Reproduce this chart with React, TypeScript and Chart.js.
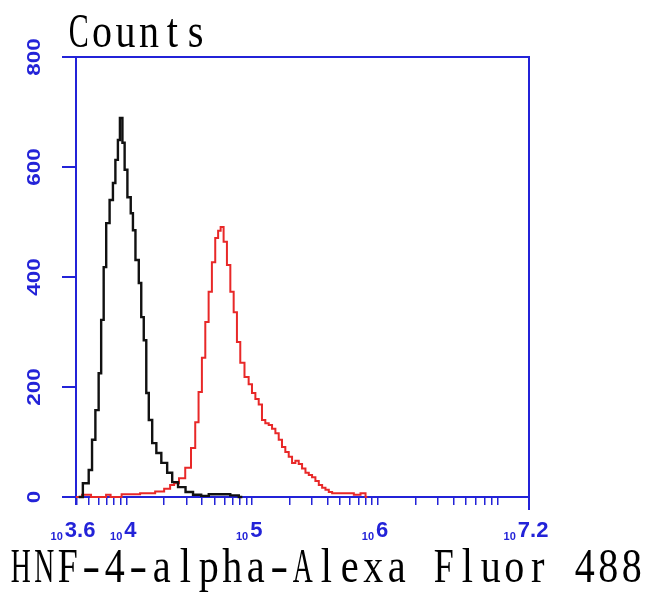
import React, { useEffect, useRef } from 'react';
import { Chart, registerables } from 'chart.js';

Chart.register(...registerables);

// ---- axis definitions ----
const X_MIN = 3.6; // log10 of fluorescence
const X_MAX = 7.2;
const xMajorTicks = [3.6, 4, 5, 6, 7.2];
const xMajorLabels = ['3.6', '4', '5', '6', '7.2'];
const xMinorMultipliers = [2, 3, 4, 5, 6, 7, 8, 9];
const xDecades = [3, 4, 5, 6];
const yTicks = [0, 200, 400, 600, 800];
const yTickLabels = ['0', '200', '400', '600', '800'];

const yAxisTitle = 'Counts';
const xAxisTitle = 'HNF-4-alpha-Alexa Fluor 488';

// ---- series (x in log10 units, y in counts) ----
const controlX = [3.621, 3.688, 3.714, 3.741, 3.767, 3.793, 3.807, 3.833, 3.847, 3.887, 3.9, 3.926, 3.94, 3.958, 3.98, 3.993, 4.024, 4.046, 4.059, 4.086, 4.112, 4.125, 4.152, 4.165, 4.192, 4.219, 4.258, 4.298, 4.351, 4.378, 4.444, 4.497, 4.563, 4.627, 4.683, 4.786, 4.866, 4.922];
const controlY = [0, 25, 49, 104, 158, 225, 322, 418, 498, 540, 571, 613, 649, 689, 644, 595, 545, 516, 485, 431, 389, 327, 285, 189, 140, 98, 80, 62, 44, 27, 18, 9, 4, 2, 5, 5, 3, 0];

const sampleX = [3.6, 3.696, 3.743, 3.823, 3.855, 3.895, 4.03, 4.189, 4.269, 4.332, 4.364, 4.395, 4.442, 4.494, 4.534, 4.561, 4.587, 4.614, 4.641, 4.667, 4.693, 4.72, 4.739, 4.76, 4.786, 4.813, 4.84, 4.866, 4.892, 4.919, 4.959, 4.985, 5.012, 5.039, 5.065, 5.091, 5.118, 5.145, 5.171, 5.198, 5.224, 5.25, 5.277, 5.304, 5.33, 5.357, 5.383, 5.41, 5.437, 5.463, 5.489, 5.516, 5.543, 5.569, 5.596, 5.622, 5.649, 5.702, 5.781, 5.835, 5.887, 5.915];
const sampleY = [0, 4, 0, 0, 4, 0, 5, 7, 10, 15, 22, 25, 34, 53, 89, 136, 191, 253, 318, 373, 427, 471, 484, 491, 464, 422, 373, 336, 282, 244, 218, 205, 189, 178, 168, 140, 134, 131, 124, 116, 104, 91, 82, 73, 62, 66, 60, 52, 44, 40, 36, 29, 22, 17, 13, 9, 7, 7, 7, 4, 7, 0];

const BLUE = '#2323d8';
const RED = '#e82828';
const BLACK = '#111111';

function buildXTicks(): number[] {
  const vals: number[] = [...xMajorTicks];
  for (const d of xDecades) {
    for (const m of xMinorMultipliers) {
      const v = Math.log10(m) + d;
      if (v > X_MIN + 0.001 && v < X_MAX - 0.001) vals.push(v);
    }
  }
  return vals.sort((a, b) => a - b);
}

// draw text as a fixed-pitch serif (each glyph centred in its own cell)
function drawCellText(ctx: CanvasRenderingContext2D, text: string, x: number, baseline: number, cell: number) {
  ctx.save();
  ctx.font = '44px "Liberation Serif", "DejaVu Serif", serif';
  ctx.textAlign = 'center';
  ctx.textBaseline = 'alphabetic';
  for (let i = 0; i < text.length; i++) {
    const ch = text[i];
    if (ch === ' ') continue;
    const w = ctx.measureText(ch).width;
    let sx = 0.92;
    if (w * sx > 20) sx = 20 / w;
    if (ch === '-') sx = 18 / w;
    ctx.save();
    ctx.translate(x + cell * i + cell / 2, baseline);
    ctx.scale(sx, 1.1);
    ctx.fillText(ch, 0, 0);
    ctx.restore();
  }
  ctx.restore();
}

const decorPlugin = {
  id: 'decor',
  beforeDatasetsDraw(chart: any) {
    const { ctx, chartArea } = chart;
    ctx.save();
    ctx.strokeStyle = BLUE;
    ctx.lineWidth = 2;
    ctx.strokeRect(chartArea.left, chartArea.top, chartArea.right - chartArea.left, chartArea.bottom - chartArea.top);
    ctx.beginPath();
    ctx.moveTo(chartArea.right, chartArea.bottom);
    ctx.lineTo(chartArea.right, chartArea.bottom + 13);
    ctx.stroke();
    ctx.restore();
  },
  afterDraw(chart: any) {
    const { ctx } = chart;
    const xs = chart.scales.x;
    const ys = chart.scales.y;
    ctx.save();
    ctx.fillStyle = BLUE;
    ctx.textAlign = 'center';
    ctx.textBaseline = 'middle';
    ctx.font = 'bold 18px "Liberation Sans", Arial, sans-serif';
    yTicks.forEach((v, i) => {
      const py = ys.getPixelForValue(v);
      ctx.save();
      ctx.translate(35, py);
      ctx.rotate(-Math.PI / 2);
      ctx.scale(1.25, 1);
      ctx.fillText(yTickLabels[i], 0, 0);
      ctx.restore();
    });
    ctx.textAlign = 'left';
    ctx.textBaseline = 'alphabetic';
    xMajorTicks.forEach((v, i) => {
      const px = xs.getPixelForValue(v);
      ctx.font = 'bold 11px "Liberation Sans", Arial, sans-serif';
      const w10 = ctx.measureText('10').width;
      ctx.font = 'bold 22px "Liberation Sans", Arial, sans-serif';
      const wE = ctx.measureText(xMajorLabels[i]).width;
      const total = w10 + 2 + wE;
      const start = px - 3 - total / 2;
      ctx.font = 'bold 11px "Liberation Sans", Arial, sans-serif';
      ctx.fillText('10', start, 540);
      ctx.font = 'bold 22px "Liberation Sans", Arial, sans-serif';
      ctx.fillText(xMajorLabels[i], start + w10 + 2, 537);
    });
    ctx.fillStyle = '#000';
    drawCellText(ctx, yAxisTitle, 67, 47, 23.4);
    drawCellText(ctx, xAxisTitle, 9, 582, 23.5);
    ctx.restore();
  },
};

export default function App() {
  const ref = useRef<HTMLCanvasElement>(null);
  useEffect(() => {
    if (!ref.current) return;
    const xTickVals = buildXTicks();
    const chart = new Chart(ref.current, {
      type: 'line',
      data: {
        datasets: [
          {
            label: 'sample',
            data: sampleX.map((x, i) => ({ x, y: sampleY[i] })),
            borderColor: RED,
            borderWidth: 2,
            pointRadius: 0,
            stepped: 'middle',
            fill: false,
            clip: 4,
            order: 2,
          },
          {
            label: 'control',
            data: controlX.map((x, i) => ({ x, y: controlY[i] })),
            borderColor: BLACK,
            borderWidth: 2.4,
            pointRadius: 0,
            stepped: 'middle',
            fill: false,
            clip: 4,
            order: 1,
          },
        ],
      },
      options: {
        animation: false,
        responsive: false,
        maintainAspectRatio: false,
        layout: { padding: { left: 62, right: 121, top: 57, bottom: 89 } },
        plugins: { legend: { display: false }, tooltip: { enabled: false }, title: { display: false } },
        scales: {
          x: {
            type: 'linear',
            min: X_MIN,
            max: X_MAX,
            afterBuildTicks: (scale: any) => {
              scale.ticks = xTickVals.map((v) => ({ value: v }));
            },
            grid: { display: true, drawOnChartArea: false, drawTicks: true, tickLength: 8, color: BLUE, lineWidth: 1.5 },
            border: { display: false },
            ticks: { display: false },
          },
          y: {
            type: 'linear',
            min: 0,
            max: 800,
            afterBuildTicks: (scale: any) => {
              scale.ticks = yTicks.map((v) => ({ value: v }));
            },
            grid: { display: true, drawOnChartArea: false, drawTicks: true, tickLength: 14, color: BLUE, lineWidth: 2 },
            border: { display: false },
            ticks: { display: false },
          },
        },
      },
      plugins: [decorPlugin],
    });
    return () => chart.destroy();
  }, []);
  return (
    <div style={{ position: 'fixed', left: 0, top: 0, width: 650, height: 594, background: '#fff' }}>
      <canvas ref={ref} width={650} height={594} style={{ display: 'block' }} />
    </div>
  );
}
